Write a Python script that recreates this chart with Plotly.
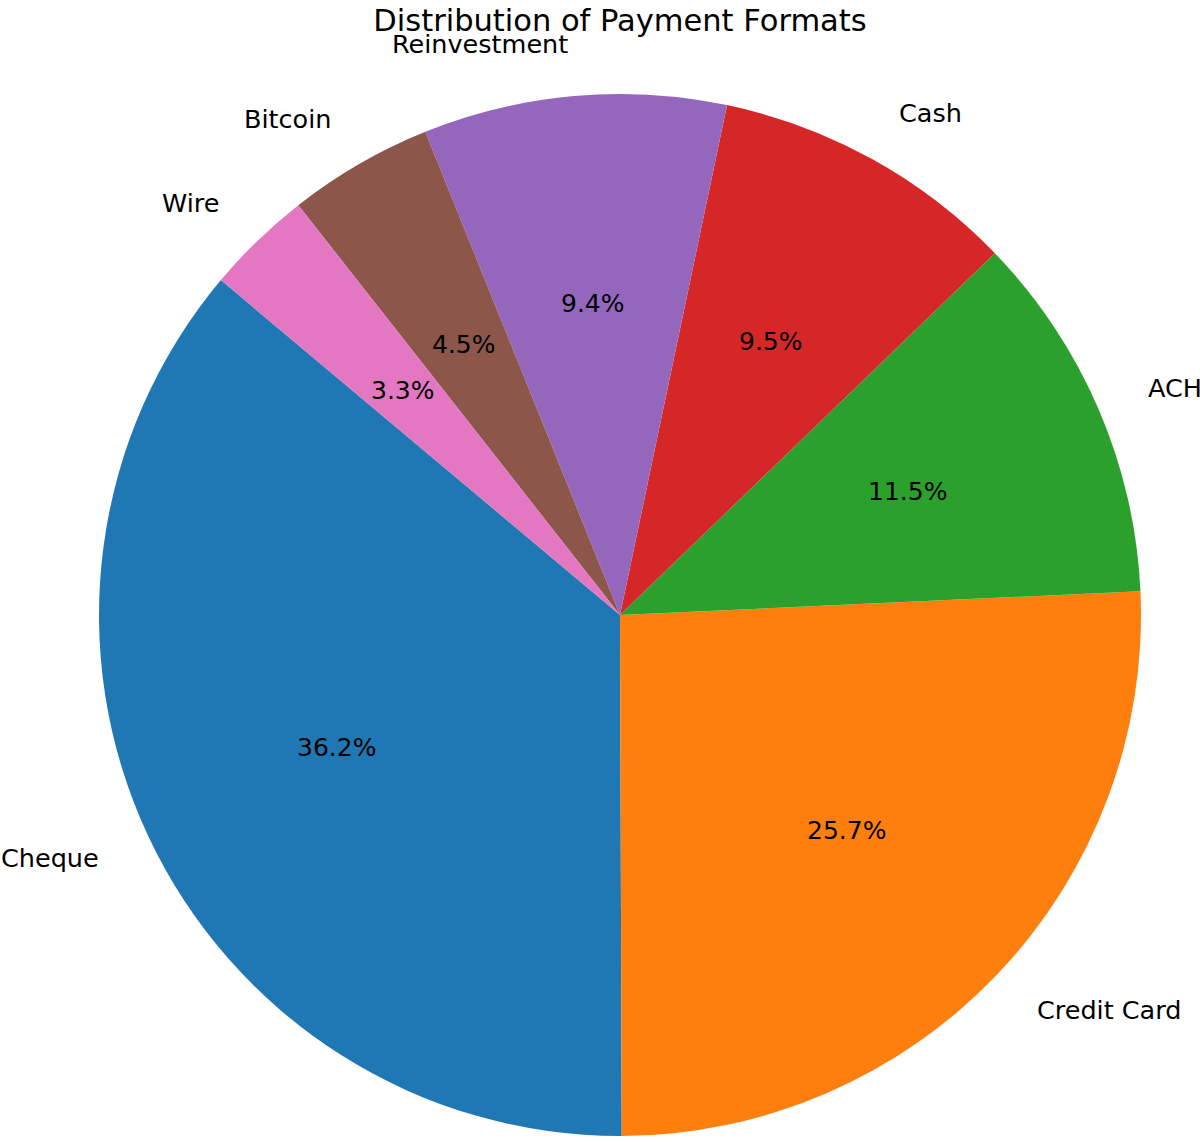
import math
import plotly.graph_objects as go

labels = ["Cheque", "Credit Card", "ACH", "Cash", "Reinvestment", "Bitcoin", "Wire"]
shares = [36.2, 25.7, 11.5, 9.5, 9.4, 4.5, 3.3]
colors = ["#1f77b4", "#ff7f0e", "#2ca02c", "#d62728", "#9467bd", "#8c564b", "#e377c2"]

W, H = 1200, 1142
cx, cy, r = 620, 615, 521
start = 140  # degrees, counterclockwise from 3 o'clock

total = sum(shares)
first_span = 360 * shares[0] / total

fig = go.Figure(go.Pie(
    labels=labels,
    values=shares,
    sort=False,
    direction="counterclockwise",
    rotation=90 - start - first_span,
    marker=dict(colors=colors, line=dict(width=0)),
    textinfo="none",
    hoverinfo="label+percent",
    showlegend=False,
    domain=dict(x=[(cx - r) / W, (cx + r) / W], y=[1 - (cy + r) / H, 1 - (cy - r) / H]),
))

# labels at 1.1 r and percentages at 0.6 r along each wedge's mid angle
theta = start
notes = []
for lab, v in zip(labels, shares):
    span = 360 * v / total
    mid = math.radians(theta + span / 2)
    theta += span
    c, s = math.cos(mid), math.sin(mid)
    notes.append(dict(x=(cx + 1.1 * r * c) / W, y=1 - (cy - 1.1 * r * s) / H, text=lab,
                      xanchor="right" if c < 0 else "left", yanchor="middle",
                      font=dict(size=25.5, color="black")))
    notes.append(dict(x=(cx + 0.6 * r * c) / W, y=1 - (cy - 0.6 * r * s) / H,
                      text=f"{v / total * 100:.1f}%", xanchor="center", yanchor="middle",
                      font=dict(size=25, color="black")))
for n in notes:
    n.update(xref="paper", yref="paper", showarrow=False)

fig.update_layout(
    width=W, height=H,
    margin=dict(l=0, r=0, t=0, b=0),
    paper_bgcolor="white",
    font=dict(family="DejaVu Sans", color="black"),
    title=dict(text="Distribution of Payment Formats", x=cx / W, y=1 - 20 / H,
               xanchor="center", yanchor="middle", font=dict(size=30.5, color="black")),
    annotations=notes,
)

# drop the default body margin so the figure sits at the page corner
fig.write_html("out.html", config={"displayModeBar": False},
               post_script="document.body.style.margin = '0';")
